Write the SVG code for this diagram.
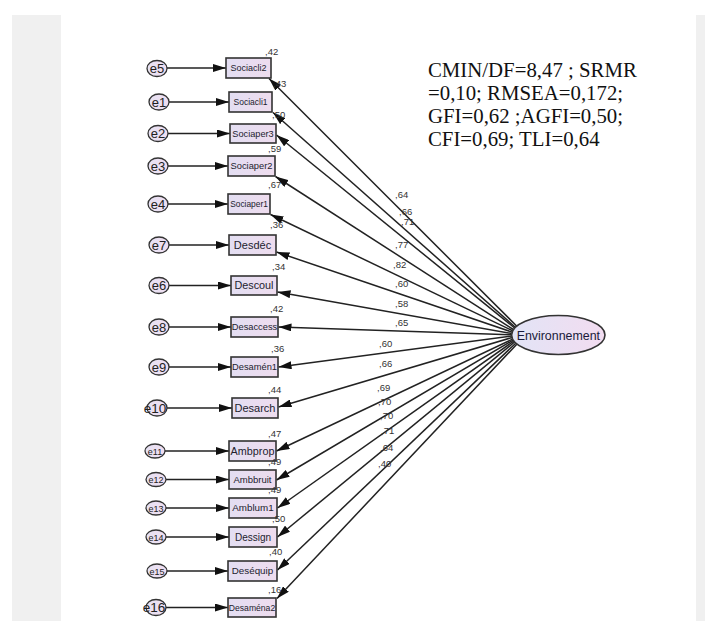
<svg xmlns="http://www.w3.org/2000/svg" width="705" height="621" viewBox="0 0 705 621">
<style>
.bg{fill:#f0f0f0}
.box{fill:url(#gb);stroke:#333;stroke-width:1.6}
.err{fill:url(#ge);stroke:#333;stroke-width:1.3}
.bt{font-family:"Liberation Sans",Arial,sans-serif;fill:#22222e;text-anchor:middle}
.et{font-family:"Liberation Sans",Arial,sans-serif;fill:#222;text-anchor:middle}
.num{font-family:"Liberation Sans",Arial,sans-serif;font-size:9.5px;fill:#333}
.ln{stroke:#222;stroke-width:1.5;fill:none;marker-end:url(#ah)}
.stats{font-family:"Liberation Serif","Times New Roman",serif;font-size:20.8px;fill:#111}
</style>
<defs>
<marker id="ah" viewBox="0 0 13 8" refX="13" refY="4" markerWidth="13" markerHeight="8" markerUnits="userSpaceOnUse" orient="auto">
<path d="M0,0 L13,4 L0,8 z" fill="#111"/>
</marker>
<linearGradient id="gb" x1="0" y1="0" x2="1" y2="0">
<stop offset="0" stop-color="#e3def2"/>
<stop offset="1" stop-color="#eedcee"/>
</linearGradient>
<linearGradient id="ge" x1="0" y1="0" x2="1" y2="0">
<stop offset="0" stop-color="#e6e2f4"/>
<stop offset="1" stop-color="#f0def0"/>
</linearGradient>
<linearGradient id="gl" x1="0" y1="0" x2="1" y2="0">
<stop offset="0" stop-color="#e2e4f6"/>
<stop offset="1" stop-color="#f2dcf0"/>
</linearGradient>
</defs>
<rect x="0" y="0" width="705" height="621" fill="#ffffff"/>
<rect class="bg" x="12" y="15" width="49" height="606"/>
<rect class="bg" x="696" y="15" width="9" height="606"/>

<g id="stats">
<text class="stats" x="428" y="76.5">CMIN/DF=8,47 ; SRMR</text>
<text class="stats" x="428" y="99.5">=0,10; RMSEA=0,172;</text>
<text class="stats" x="428" y="122.5">GFI=0,62 ;AGFI=0,50;</text>
<text class="stats" x="428" y="145.5">CFI=0,69; TLI=0,64</text>
</g>

<g id="connectors">
<line class="ln" x1="167" y1="68" x2="226" y2="68"/>
<line class="ln" x1="169" y1="102" x2="229" y2="102"/>
<line class="ln" x1="168" y1="133.5" x2="230" y2="133.5"/>
<line class="ln" x1="168" y1="166" x2="228" y2="166"/>
<line class="ln" x1="168" y1="204" x2="228" y2="204"/>
<line class="ln" x1="169" y1="245" x2="229" y2="245"/>
<line class="ln" x1="169" y1="285.5" x2="231" y2="285.5"/>
<line class="ln" x1="169" y1="327" x2="231" y2="327"/>
<line class="ln" x1="169" y1="367" x2="231" y2="367"/>
<line class="ln" x1="167" y1="408" x2="232" y2="408"/>
<line class="ln" x1="165" y1="451" x2="229" y2="451"/>
<line class="ln" x1="166" y1="479.5" x2="229" y2="479.5"/>
<line class="ln" x1="166" y1="508" x2="229" y2="508"/>
<line class="ln" x1="166" y1="537" x2="229" y2="537"/>
<line class="ln" x1="167" y1="571" x2="228" y2="571"/>
<line class="ln" x1="166" y1="607.5" x2="228" y2="607.5"/>

<line class="ln" x1="516.6" y1="326" x2="269" y2="78.5"/>
<line class="ln" x1="515.3" y1="327.2" x2="273" y2="112.5"/>
<line class="ln" x1="514.6" y1="328" x2="276.5" y2="135"/>
<line class="ln" x1="513.4" y1="329.5" x2="275.5" y2="176.5"/>
<line class="ln" x1="512.7" y1="330.8" x2="270.5" y2="214.5"/>
<line class="ln" x1="512.1" y1="332.1" x2="276.5" y2="252"/>
<line class="ln" x1="511.7" y1="333.5" x2="277.5" y2="292"/>
<line class="ln" x1="511.6" y1="334.7" x2="278.5" y2="327"/>
<line class="ln" x1="511.7" y1="336.1" x2="278.5" y2="367"/>
<line class="ln" x1="512" y1="337.5" x2="278.5" y2="407"/>
<line class="ln" x1="512.6" y1="339.1" x2="276.5" y2="451"/>
<line class="ln" x1="513.1" y1="340.1" x2="276.5" y2="480"/>
<line class="ln" x1="513.8" y1="341.1" x2="277.5" y2="508"/>
<line class="ln" x1="514.6" y1="342" x2="277.5" y2="537"/>
<line class="ln" x1="515.7" y1="343.2" x2="277.5" y2="570"/>
<line class="ln" x1="516.8" y1="344.2" x2="277" y2="598.5"/>

<text class="num" x="395" y="198">,64</text>
<text class="num" x="399" y="215">,66</text>
<text class="num" x="401" y="225">,71</text>
<text class="num" x="395" y="248">,77</text>
<text class="num" x="393" y="268">,82</text>
<text class="num" x="395" y="287">,60</text>
<text class="num" x="395" y="307">,58</text>
<text class="num" x="395" y="326">,65</text>
<text class="num" x="379" y="347">,60</text>
<text class="num" x="379" y="367">,66</text>
<text class="num" x="377" y="391">,69</text>
<text class="num" x="378" y="405">,70</text>
<text class="num" x="380" y="419">,70</text>
<text class="num" x="381" y="434">,71</text>
<text class="num" x="380" y="451">,64</text>
<text class="num" x="378" y="467">,40</text>
</g>

<g id="Environnement">
<ellipse cx="558.3" cy="335" rx="46.7" ry="19.5" fill="url(#gl)" stroke="#333" stroke-width="1.6"/>
<text x="558.3" y="339.5" font-family="Liberation Sans, Arial, sans-serif" font-size="12.4" fill="#1a1a3a" text-anchor="middle">Environnement</text>
</g>

<g id="e5"><ellipse class="err" cx="157" cy="68.5" rx="10" ry="8"/><text class="et" x="157" y="73.2" font-size="13">e5</text></g>
<g id="e1"><ellipse class="err" cx="159" cy="102" rx="10" ry="8"/><text class="et" x="159" y="106.7" font-size="13">e1</text></g>
<g id="e2"><ellipse class="err" cx="158" cy="133.5" rx="10" ry="8"/><text class="et" x="158" y="138.2" font-size="13">e2</text></g>
<g id="e3"><ellipse class="err" cx="158" cy="166" rx="10" ry="8"/><text class="et" x="158" y="170.7" font-size="13">e3</text></g>
<g id="e4"><ellipse class="err" cx="158" cy="204" rx="10" ry="8"/><text class="et" x="158" y="208.7" font-size="13">e4</text></g>
<g id="e7"><ellipse class="err" cx="159" cy="245" rx="10" ry="8"/><text class="et" x="159" y="249.7" font-size="13">e7</text></g>
<g id="e6"><ellipse class="err" cx="159" cy="285.5" rx="10" ry="8"/><text class="et" x="159" y="290.2" font-size="13">e6</text></g>
<g id="e8"><ellipse class="err" cx="159" cy="327" rx="10" ry="8"/><text class="et" x="159" y="331.7" font-size="13">e8</text></g>
<g id="e9"><ellipse class="err" cx="159" cy="367" rx="10" ry="8"/><text class="et" x="159" y="371.7" font-size="13">e9</text></g>
<g id="e10"><ellipse class="err" cx="157" cy="408" rx="10" ry="8"/><text class="et" x="155" y="412.8" font-size="13.5">e10</text></g>
<g id="e11"><ellipse class="err" cx="155" cy="451" rx="10" ry="7"/><text class="et" x="155" y="454.5" font-size="9">e11</text></g>
<g id="e12"><ellipse class="err" cx="156" cy="479.5" rx="10" ry="7"/><text class="et" x="156" y="483" font-size="9">e12</text></g>
<g id="e13"><ellipse class="err" cx="156" cy="508" rx="10" ry="7"/><text class="et" x="156" y="511.5" font-size="9">e13</text></g>
<g id="e14"><ellipse class="err" cx="156" cy="537" rx="10" ry="7"/><text class="et" x="156" y="540.5" font-size="9">e14</text></g>
<g id="e15"><ellipse class="err" cx="157" cy="571" rx="10" ry="7"/><text class="et" x="157" y="574.5" font-size="9">e15</text></g>
<g id="e16"><ellipse class="err" cx="156" cy="607.5" rx="10" ry="8"/><text class="et" x="154" y="612.3" font-size="13.5">e16</text></g>

<g id="Sociacli2"><rect class="box" x="226" y="58" width="45" height="20"/><text class="bt" x="248.5" y="71.2" font-size="9">Sociacli2</text><text class="num" x="265" y="55">,42</text></g>
<g id="Sociacli1"><rect class="box" x="229" y="92" width="43" height="20"/><text class="bt" x="250.5" y="105" font-size="8.5">Sociacli1</text><text class="num" x="273" y="87">,43</text></g>
<g id="Sociaper3"><rect class="box" x="230" y="124" width="46" height="19"/><text class="bt" x="253" y="136.7" font-size="9.2">Sociaper3</text><text class="num" x="272" y="118">,50</text></g>
<g id="Sociaper2"><rect class="box" x="228" y="156" width="47" height="20"/><text class="bt" x="251.5" y="169.3" font-size="9.3">Sociaper2</text><text class="num" x="268" y="152">,59</text></g>
<g id="Sociaper1"><rect class="box" x="228" y="194" width="42" height="20"/><text class="bt" x="249" y="206.9" font-size="8.4">Sociaper1</text><text class="num" x="268" y="188">,67</text></g>
<g id="Desdec"><rect class="box" x="229" y="235" width="47" height="20"/><text class="bt" x="252.5" y="248.9" font-size="11">Desdéc</text><text class="num" x="270" y="228">,36</text></g>
<g id="Descoul"><rect class="box" x="231" y="276" width="46" height="19"/><text class="bt" x="254" y="289.3" font-size="10.8">Descoul</text><text class="num" x="272" y="270">,34</text></g>
<g id="Desaccess"><rect class="box" x="231" y="317" width="47" height="20"/><text class="bt" x="254.5" y="330.3" font-size="9.3">Desaccess</text><text class="num" x="270" y="312">,42</text></g>
<g id="Desamen1"><rect class="box" x="231" y="357" width="47" height="20"/><text class="bt" x="254.5" y="370.3" font-size="9.3">Desamén1</text><text class="num" x="271" y="352">,36</text></g>
<g id="Desarch"><rect class="box" x="232" y="398" width="46" height="20"/><text class="bt" x="255" y="411.9" font-size="11">Desarch</text><text class="num" x="268" y="393">,44</text></g>
<g id="Ambprop"><rect class="box" x="229" y="441" width="47" height="20"/><text class="bt" x="252.5" y="454.8" font-size="10.8">Ambprop</text><text class="num" x="268" y="437">,47</text></g>
<g id="Ambbruit"><rect class="box" x="229" y="470" width="47" height="19"/><text class="bt" x="252.5" y="482.8" font-size="9.5">Ambbruit</text><text class="num" x="268" y="465">,49</text></g>
<g id="Amblum1"><rect class="box" x="229" y="498" width="48" height="20"/><text class="bt" x="253" y="511.4" font-size="9.8">Amblum1</text><text class="num" x="268" y="493">,49</text></g>
<g id="Dessign"><rect class="box" x="229" y="527" width="48" height="20"/><text class="bt" x="253" y="540.5" font-size="10">Dessign</text><text class="num" x="272" y="522">,50</text></g>
<g id="Desequip"><rect class="box" x="228" y="561" width="49" height="20"/><text class="bt" x="252.5" y="574.4" font-size="9.8">Deséquip</text><text class="num" x="269" y="555">,40</text></g>
<g id="Desamena2"><rect class="box" x="228" y="598" width="48" height="19"/><text class="bt" x="252" y="610.5" font-size="8.6">Desaména2</text><text class="num" x="268" y="593">,16</text></g>
</svg>
